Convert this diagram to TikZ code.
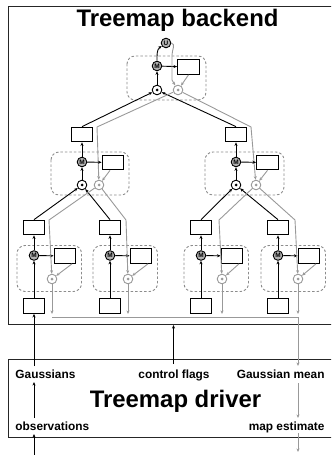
\documentclass[tikz,border=0pt]{standalone}
\usepackage{fontspec}
\setmainfont{Liberation Sans}
\usetikzlibrary{arrows.meta,calc}
\begin{document}
\begin{tikzpicture}[x=1bp,y=-1bp,
  line width=0.9bp,
  arr/.style={-{Stealth[length=3.6bp,width=3bp]}},
  gline/.style={draw=black!40},
  bx/.style={draw, line width=1.1bp, fill=white, minimum width=21.7bp, minimum height=14.6bp, inner sep=0},
  mnode/.style={circle, draw, fill=black!30, inner sep=0, minimum size=9.6bp, font=\bfseries\fontsize{6.5}{6.5}\selectfont},
  dnode/.style={circle, draw, fill=white, inner sep=0, minimum size=9.6bp, path picture={\fill[black] (path picture bounding box.center) circle (1.5bp);}},
  gnode/.style={circle, draw=black!40, fill=white, inner sep=0, minimum size=9.6bp, path picture={\fill[black!40] (path picture bounding box.center) circle (1.5bp);}},
  grp/.style={draw=black!45, dash pattern=on 2.5bp off 2bp, rounded corners=8bp, line width=0.9bp},
  panel/.style={draw=black!85, line width=1bp, inner sep=0, anchor=north west},
  lbl/.style={font=\bfseries\fontsize{11.9}{12}\selectfont, inner sep=0},
  ttl/.style={font=\bfseries\fontsize{24}{24}\selectfont, inner sep=0},
]
\useasboundingbox (0,0) rectangle (331,455);
\clip (0,0) rectangle (331,455);

% panels
\node[panel, minimum width=345bp, minimum height=318bp] (backend) at (8,6) {};
\node[panel, minimum width=345bp, minimum height=78bp] (driver) at (8,359) {};
\node[ttl, anchor=base] (btitle) at (177.5,27) {Treemap backend};
\node[ttl, anchor=base] (dtitle) at (175.5,407.3) {Treemap driver};
\node[lbl, anchor=base west] (gauss) at (15,378) {Gaussians};
\node[lbl, anchor=base] (flags) at (174,378) {control flags};
\node[lbl, anchor=base east] (gmean) at (325,378) {Gaussian mean};
\node[lbl, anchor=base west] (obs) at (15,430) {observations};
\node[lbl, anchor=base east] (mapest) at (325,430) {map estimate};

% dashed groups
\draw[grp] (127,56) rectangle (206,100);
\draw[grp] (51,152) rectangle (129,195);
\draw[grp] (205,152) rectangle (284,195);
\foreach \c in {34,110,201,278}{
  \draw[grp] (\c-17,245.5) rectangle (\c+47.5,291.5);
}

% root
\node[mnode] (U) at (166,43) {U};
\node[mnode] (M0) at (157,66) {M};
\node[bx] (B0) at (188.5,67) {};
\node[dnode] (D0) at (157,90) {};
\node[gnode] (G0) at (178,90) {};

% level 1
\node[bx] (T1) at (82,134.5) {};
\node[mnode] (M1) at (82,162) {M};
\node[bx] (B1) at (113,162.5) {};
\node[dnode] (D1) at (82,185) {};
\node[gnode] (G1) at (99,185) {};

\node[bx] (T2) at (236,134.5) {};
\node[mnode] (M2) at (236,162) {M};
\node[bx] (B2) at (267.5,162.5) {};
\node[dnode] (D2) at (236,185) {};
\node[gnode] (G2) at (256,185) {};

% leaves
\foreach \i/\c/\g in {1/34/18,2/110/18,3/201/21,4/278/20}{
  \node[bx] (Lt\i) at (\c,227.5) {};
  \node[mnode] (LM\i) at (\c,255.5) {M};
  \node[bx] (LB\i) at (\c+31,256) {};
  \node[gnode] (LG\i) at (\c+\g,279) {};
  \node[bx] (LS\i) at (\c,306) {};
  \coordinate (LO\i) at (\c+\g,314);
  \draw[arr] (LS\i) -- (LM\i);
  \draw[arr] (LM\i) -- (Lt\i);
  \draw[arr] (LM\i) -- (LB\i);
  \draw[gline,arr] ($(LB\i.south)+(7,0)$) -- (LG\i);
  \draw[gline,arr] (LG\i) -- (LO\i);
}

% root connectors
\draw[arr] (D0) -- (M0);
\draw[arr] (M0) -- (B0);
\draw[arr] (M0.north) to[out=90,in=215] (U);
\draw[gline,arr] (B0.south) -- (G0);
\draw[gline,arr] (U.east) to[out=-10,in=90] (172,55) -- (172,80) -- (G0);

% level 1 connectors
\draw[arr] (T1.north) -- (D0);
\draw[arr] (T2.north) -- (D0);
\draw[gline,arr] (G0) -- (97,127) -- (G1);
\draw[gline,arr] (G0) -- (251,127) -- (G2);
\draw[arr] (D1) -- (M1);
\draw[arr] (M1) -- (T1);
\draw[arr] (M1) -- (B1);
\draw[gline,arr] ($(B1.south)+(-3,0)$) -- (G1);
\draw[arr] (D2) -- (M2);
\draw[arr] (M2) -- (T2);
\draw[arr] (M2) -- (B2);
\draw[gline,arr] (B2.south) -- (G2);

% level 2 connectors
\draw[arr] (Lt1.north) -- (D1);
\draw[arr] (Lt2.north) -- (D1);
\draw[gline,arr] (G1) -- (49,220) -- (LG1);
\draw[gline,arr] (G1) -- (126,220) -- (LG2);
\draw[arr] (Lt3.north) -- (D2);
\draw[arr] (Lt4.north) -- (D2);
\draw[gline,arr] (G2) -- (219,220) -- (LG3);
\draw[gline,arr] (G2) -- (295,220) -- (LG4);

% bus and driver connections
\coordinate (busL) at (52,317);
\coordinate (busR) at (298,317);
\draw[gline] (busL) -- (busR);
\draw[gline,arr] (busR) -- (298,366);
\draw[gline,arr] (298,383) -- (298,418);
\draw[gline,arr] (298,433) -- (298,452);
\draw[arr] (34,455) -- (34,434);
\draw[arr] (34,418) -- (34,382);
\draw[arr] (34,366) -- (LS1);
\draw[arr] (173.5,364) -- (backend.south -| 173.5,0);
\end{tikzpicture}
\end{document}
